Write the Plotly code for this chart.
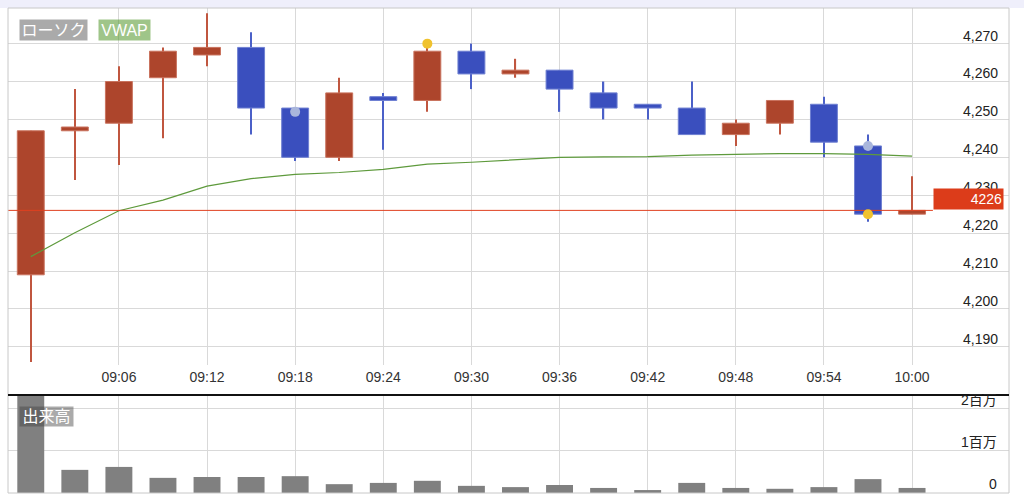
import plotly.graph_objects as go
from datetime import datetime

DAY = "2024-01-01 "

# ---------------- data ----------------
times = ["09:00", "09:03", "09:06", "09:09", "09:12", "09:15", "09:18",
         "09:21", "09:24", "09:27", "09:30", "09:33", "09:36", "09:39",
         "09:42", "09:45", "09:48", "09:51", "09:54", "09:57", "10:00"]
opens = [4209, 4247, 4249, 4261, 4267, 4269, 4253, 4240, 4256, 4255, 4268,
         4262, 4263, 4257, 4254, 4253, 4246, 4249, 4254, 4243, 4225]
highs = [4247, 4258, 4264, 4269, 4278, 4273, 4253, 4261, 4257, 4269, 4270,
         4266, 4263, 4260, 4254, 4260, 4250, 4255, 4256, 4246, 4235]
lows = [4186, 4234, 4238, 4245, 4264, 4246, 4239, 4239, 4242, 4252, 4258,
        4261, 4252, 4250, 4250, 4246, 4243, 4246, 4240, 4223, 4225]
closes = [4247, 4248, 4260, 4268, 4269, 4253, 4240, 4257, 4255, 4268, 4262,
          4263, 4258, 4253, 4253, 4246, 4249, 4255, 4244, 4225, 4226]
vwap = [4213.8, 4220.1, 4225.9, 4228.7, 4232.4, 4234.4, 4235.5, 4236.0,
        4236.8, 4238.2, 4238.7, 4239.3, 4240.0, 4240.1, 4240.2, 4240.6,
        4240.8, 4241.0, 4241.0, 4240.8, 4240.3]
volume = [2500000, 550000, 620000, 360000, 380000, 380000, 400000, 210000,
          240000, 290000, 170000, 140000, 190000, 120000, 70000, 240000,
          120000, 100000, 140000, 330000, 120000]

x_tick_labels = ["09:06", "09:12", "09:18", "09:24", "09:30", "09:36",
                 "09:42", "09:48", "09:54", "10:00"]
price_ticks = [4190, 4200, 4210, 4220, 4230, 4240, 4250, 4260, 4270]
volume_ticks = [0, 1000000, 2000000]
volume_tick_labels = ["0", "1百万", "2百万"]

signal_blue_times = ["09:18", "09:57"]
signal_blue_prices = [4252, 4243]
signal_yellow_times = ["09:27", "09:57"]
signal_yellow_prices = [4270, 4225]

last_price = closes[-1]

# ---------------- styling constants ----------------
X_RANGE = [DAY + "08:58:27", DAY + "10:06:36"]
PRICE_RANGE = [4185.2, 4279.4]
VOL_RANGE = [0, 2330000]
BODY_W = 110000   # ms
WICK_W = 5000     # ms
UP_FILL, UP_LINE, UP_WICK = "#ad452c", "#c9735e", "#c0563f"
DN_FILL, DN_LINE, DN_WICK = "#3a4fbe", "#6f80d2", "#4b60c8"
GRID = "#d9d9d9"
FONT = "Liberation Sans, Arial, Noto Sans CJK JP, sans-serif"

xs = [DAY + t for t in times]
up = [c >= o for o, c in zip(opens, closes)]

fig = go.Figure()

# wicks
fig.add_trace(go.Bar(
    x=xs, y=[h - l for h, l in zip(highs, lows)], base=lows, width=WICK_W,
    marker=dict(color=[UP_WICK if u else DN_WICK for u in up], line_width=0),
    xaxis="x", yaxis="y", showlegend=False, hoverinfo="skip"))
# bodies
fig.add_trace(go.Bar(
    x=xs, y=[abs(c - o) for o, c in zip(opens, closes)],
    base=[min(o, c) for o, c in zip(opens, closes)], width=BODY_W,
    marker=dict(color=[UP_FILL if u else DN_FILL for u in up],
                line=dict(color=[UP_LINE if u else DN_LINE for u in up], width=1)),
    xaxis="x", yaxis="y", showlegend=False, hoverinfo="skip"))
# VWAP
fig.add_trace(go.Scatter(
    x=xs, y=vwap, mode="lines", line=dict(color="#5e9a3c", width=1.2),
    xaxis="x", yaxis="y", showlegend=False, hoverinfo="skip"))

# current price line (from left edge to the price label)
t0 = datetime.fromisoformat(X_RANGE[0])
t1 = datetime.fromisoformat(X_RANGE[1])
x_label_start = t0 + (t1 - t0) * 0.924
fig.add_trace(go.Scatter(
    x=[t0, x_label_start], y=[last_price, last_price], mode="lines",
    line=dict(color="#e0401f", width=1),
    xaxis="x", yaxis="y", showlegend=False, hoverinfo="skip"))

# signal dots
fig.add_trace(go.Scatter(
    x=[DAY + t for t in signal_blue_times], y=signal_blue_prices, mode="markers",
    marker=dict(color="#a9b6dc", size=10, line_width=0),
    xaxis="x", yaxis="y", showlegend=False, hoverinfo="skip"))
fig.add_trace(go.Scatter(
    x=[DAY + t for t in signal_yellow_times], y=signal_yellow_prices, mode="markers",
    marker=dict(color="#f0c22e", size=10, line_width=0),
    xaxis="x", yaxis="y", showlegend=False, hoverinfo="skip"))

# volume
fig.add_trace(go.Bar(
    x=xs, y=volume, width=BODY_W, marker=dict(color="#808080", line_width=0),
    xaxis="x2", yaxis="y2", showlegend=False, hoverinfo="skip"))

tickvals_x = [DAY + t for t in x_tick_labels]

fig.update_layout(
    width=1024, height=498,
    margin=dict(l=8, r=15, t=8, b=5),
    paper_bgcolor="white", plot_bgcolor="white",
    font=dict(family=FONT, size=14, color="#222"),
    barmode="overlay", showlegend=False, hovermode=False,
    xaxis=dict(type="date", range=X_RANGE, anchor="y", domain=[0, 1],
               tickvals=tickvals_x, ticktext=x_tick_labels,
               showgrid=True, gridcolor=GRID, gridwidth=1, zeroline=False,
               showline=False, ticks="", ticklabelstandoff=2,
               tickfont=dict(size=14, color="#333")),
    xaxis2=dict(type="date", range=X_RANGE, anchor="y2", domain=[0, 1],
                matches="x", tickvals=tickvals_x, showticklabels=False,
                showgrid=True, gridcolor=GRID, gridwidth=1, zeroline=False,
                showline=False, ticks=""),
    yaxis=dict(domain=[0.2639, 1], range=PRICE_RANGE, side="right", anchor="x",
               tickvals=price_ticks, tickformat=",",
               ticklabelposition="inside", ticklabelshift=-8, ticklabelstandoff=8,
               showgrid=True, gridcolor=GRID, gridwidth=1, zeroline=False,
               showline=False, ticks="", tickfont=dict(size=14, color="#222")),
    yaxis2=dict(domain=[0, 0.2021], range=VOL_RANGE, side="right", anchor="x2",
                tickvals=volume_ticks, showticklabels=False,
                showgrid=True, gridcolor=GRID, gridwidth=1, zeroline=False,
                showline=False, ticks=""),
)

# volume axis labels (sit just above their gridlines, right aligned)
for v, lab in zip(volume_ticks, volume_tick_labels):
    fig.add_annotation(xref="paper", yref="y2", x=0.989, y=v, text=lab,
                       xanchor="right", yanchor="bottom", showarrow=False,
                       font=dict(size=14, color="#222"), borderpad=0)

# frame, separator, top strip
fig.add_shape(type="rect", xref="paper", yref="paper", x0=-0.01, x1=1.02,
              y0=1.0, y1=1.02, fillcolor="#efeffb", line_width=0, layer="below")
fig.add_shape(type="rect", xref="paper", yref="paper", x0=0, x1=1, y0=0, y1=1,
              line=dict(color="#c8c8c8", width=1), fillcolor="rgba(0,0,0,0)")
fig.add_shape(type="line", xref="paper", yref="paper", x0=0, x1=1,
              y0=0.2021, y1=0.2021, line=dict(color="#111", width=2))

# badges
fig.add_annotation(xref="paper", yref="paper", x=0.0105, y=0.932,
                   xanchor="left", yanchor="bottom", text="ローソク",
                   showarrow=False, bgcolor="rgba(67,67,67,0.45)",
                   font=dict(size=16, color="white"), width=67, height=20,
                   borderpad=0, align="center")
fig.add_annotation(xref="paper", yref="paper", x=0.0899, y=0.932,
                   xanchor="left", yanchor="bottom", text="VWAP",
                   showarrow=False, bgcolor="rgba(80,150,40,0.55)",
                   font=dict(size=16, color="white"), width=51, height=20,
                   borderpad=0, align="center")
fig.add_annotation(xref="paper", yref="paper", x=0.0105, y=0.1361,
                   xanchor="left", yanchor="bottom", text="出来高",
                   showarrow=False, bgcolor="rgba(67,67,67,0.45)",
                   font=dict(size=16, color="white"), width=53, height=19,
                   borderpad=0, align="center")
# current price label
fig.add_annotation(xref="paper", yref="y", x=0.995, y=last_price,
                   xanchor="right", yanchor="bottom", text=str(last_price),
                   showarrow=False, bgcolor="#dc3c1a",
                   font=dict(size=14, color="white"), width=67, height=18,
                   borderpad=1, align="right")

fig.write_html(
    "out.html",
    config={"displayModeBar": False},
    post_script="document.body.style.margin='0';document.body.style.overflow='hidden';",
)
